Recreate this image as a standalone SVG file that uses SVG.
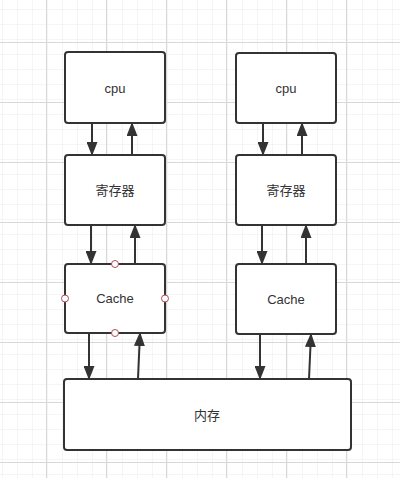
<svg xmlns="http://www.w3.org/2000/svg" width="400" height="478" viewBox="0 0 400 478">
  <defs>
    <pattern id="minor" width="15" height="15" patternUnits="userSpaceOnUse" x="1" y="12">
      <path d="M15 0H0V15" fill="none" stroke="#ebebeb" stroke-width="1"/>
    </pattern>
    <pattern id="major" width="60" height="60" patternUnits="userSpaceOnUse" x="46" y="42">
      <rect width="60" height="60" fill="url(#minor)"/>
      <path d="M60 0.5H0.5V60" fill="none" stroke="#d8d8d8" stroke-width="1"/>
    </pattern>
    <marker id="arr" markerWidth="14" markerHeight="11" refX="13" refY="5.5" orient="auto" markerUnits="userSpaceOnUse" viewBox="0 0 14 11">
      <path d="M0 0L14 5.5L0 11Z" fill="#333333"/>
    </marker>
    <style>
      .box { fill: #ffffff; stroke: #333333; stroke-width: 2; }
      .lbl { font-family: "Liberation Sans", "Noto Sans CJK SC", sans-serif; font-size: 13px; fill: #333333; text-anchor: middle; dominant-baseline: central; }
      .edge { stroke: #333333; stroke-width: 2; fill: none; marker-end: url(#arr); }
      .pt { fill: #ffffff; stroke: #b04a5a; stroke-width: 1; }
    </style>
  </defs>
  <rect width="400" height="478" fill="#ffffff"/>
  <rect width="400" height="478" fill="url(#major)"/>

  <g id="connectors">
    <line class="edge" x1="92" y1="123" x2="92" y2="155"/>
    <line class="edge" x1="132" y1="155" x2="132" y2="123"/>
    <line class="edge" x1="91" y1="225" x2="91" y2="264"/>
    <line class="edge" x1="135" y1="264" x2="135" y2="225"/>
    <line class="edge" x1="89" y1="333" x2="89" y2="379"/>
    <line class="edge" x1="138" y1="379" x2="140" y2="333"/>
    <line class="edge" x1="263" y1="123" x2="263" y2="155"/>
    <line class="edge" x1="302" y1="155" x2="302" y2="123"/>
    <line class="edge" x1="262" y1="225" x2="262" y2="264"/>
    <line class="edge" x1="306" y1="264" x2="306" y2="225"/>
    <line class="edge" x1="260" y1="334" x2="260" y2="379"/>
    <line class="edge" x1="309" y1="379" x2="311" y2="334"/>
  </g>

  <g id="cpu1">
    <rect class="box" x="65" y="52" width="100" height="71" rx="3"/>
    <text class="lbl" x="115" y="88">cpu</text>
  </g>
  <g id="reg1">
    <rect class="box" x="65" y="155" width="100" height="70" rx="3"/>
    <text class="lbl" x="115" y="190">寄存器</text>
  </g>
  <g id="cache1">
    <rect class="box" x="65" y="264" width="100" height="69" rx="3"/>
    <text class="lbl" x="115" y="298">Cache</text>
    <circle class="pt" cx="115" cy="264" r="3.5"/>
    <circle class="pt" cx="115" cy="333" r="3.5"/>
    <circle class="pt" cx="65" cy="298.5" r="3.5"/>
    <circle class="pt" cx="165" cy="298.5" r="3.5"/>
  </g>
  <g id="cpu2">
    <rect class="box" x="236" y="53" width="100" height="70" rx="3"/>
    <text class="lbl" x="286" y="88">cpu</text>
  </g>
  <g id="reg2">
    <rect class="box" x="236" y="155" width="100" height="70" rx="3"/>
    <text class="lbl" x="286" y="190">寄存器</text>
  </g>
  <g id="cache2">
    <rect class="box" x="236" y="264" width="100" height="70" rx="3"/>
    <text class="lbl" x="286" y="299">Cache</text>
  </g>
  <g id="mem">
    <rect class="box" x="64" y="379" width="287" height="71" rx="3"/>
    <text class="lbl" x="207" y="415">内存</text>
  </g>
</svg>
